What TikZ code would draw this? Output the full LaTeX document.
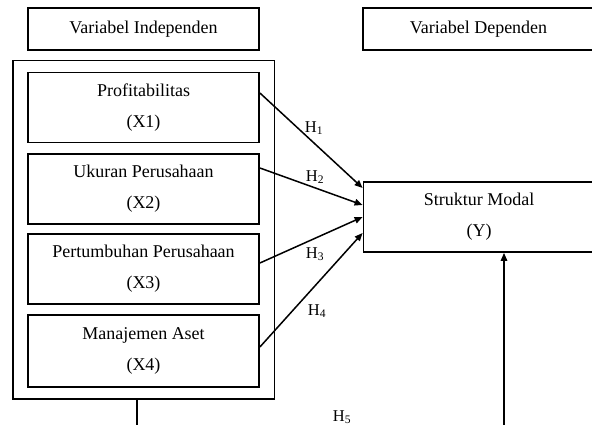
\documentclass[tikz,border=0pt]{standalone}
\usepackage{fontspec}
\setmainfont{Liberation Serif}
\usetikzlibrary{arrows.meta,fit}

\begin{document}
\begin{tikzpicture}[x=1pt,y=1pt,
% common options for the variable boxes:
box/.style = {draw, line width=1.8pt, align=center, minimum width=231pt,
            minimum height=70pt, inner sep=0, font=\fontsize{18}{31}\selectfont},
% common options for the heading boxes:
head/.style = {box, minimum height=42pt},
% hypothesis labels:
hyp/.style = {inner sep=0, font=\fontsize{16.5}{18}\selectfont},
>={Triangle[length=8pt,width=6.5pt]}]
\clip (0,0) rectangle (592,425);
\node[head] (A0) at (143.5,396) {Variabel Independen};
\node[head] (B0) at (478.5,396) {Variabel Dependen};
\node[box] (X1) at (143.5,317.5) {Profitabilitas\\(X1)};
\node[box] (X2) at (143.5,236) {Ukuran Perusahaan\\(X2)};
\node[box] (X3) at (143.5,156) {Pertumbuhan Perusahaan\\(X3)};
\node[box, minimum height=72pt] (X4) at (143.5,74) {Manajemen Aset\\(X4)};
\node[draw, line width=1.8pt, inner xsep=14.5pt, inner ysep=11pt, fit=(X1)(X4)] (G) {};
\node[box] (Y) at (479,208) {Struktur Modal\\(Y)};
\draw[->, line width=1.5pt] ([yshift=14.5pt]X1.east) to ([yshift=29pt]Y.west);
\draw[->, line width=1.5pt] ([yshift=21pt]X2.east) to ([yshift=12pt]Y.west);
\draw[->, line width=1.5pt] ([yshift=6pt]X3.east) to (Y.west);
\draw[->, line width=1.5pt] ([yshift=4pt]X4.east) to ([yshift=-16pt]Y.west);
\node[hyp] (H1) at (314,297) {H\textsubscript{1}};
\node[hyp] (H2) at (315,248) {H\textsubscript{2}};
\node[hyp] (H3) at (315,171) {H\textsubscript{3}};
\node[hyp] (H4) at (317,114) {H\textsubscript{4}};
\node[hyp] (H5) at (342,8) {H\textsubscript{5}};
\coordinate (L5) at (137,-5);
\coordinate (R5) at (504,-5);
\draw[line width=1.5pt] (G.south -| L5) -- (L5);
\draw[->, line width=1.5pt] (R5) -- (R5 |- Y.south);
\end{tikzpicture}
\end{document}
